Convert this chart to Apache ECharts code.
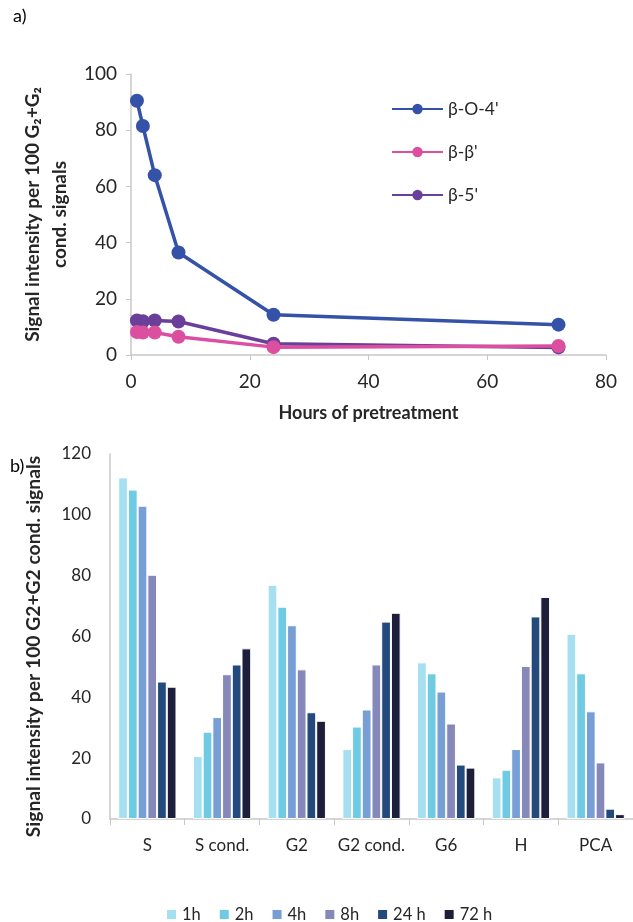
<!DOCTYPE html>
<html><head><meta charset="utf-8">
<script src="https://cdn.jsdelivr.net/npm/echarts@6/dist/echarts.min.js"></script>
<style>html,body{margin:0;padding:0;background:#fff}#c{width:633px;height:922px}</style>
</head><body><div id="c"></div>
<script>
// Panel a)
const hours = [1, 2, 4, 8, 24, 72];
const bO4 = [90.5, 81.5, 64, 36.5, 14.3, 10.8];
const bb = [8.2, 8, 8, 6.5, 2.8, 3.2];
const b5 = [12.3, 12, 12.3, 11.9, 4, 2.7];
const lineNames = ["β-O-4'", "β-β'", "β-5'"];
const lineColors = ['#3452a8', '#dc4fa0', '#6a3f9a'];
const xTicksA = [0, 20, 40, 60, 80];
const yTicksA = [0, 20, 40, 60, 80, 100];
// Panel b)
const categories = ['S', 'S cond.', 'G2', 'G2 cond.', 'G6', 'H', 'PCA'];
const barNames = ['1h', '2h', '4h', '8h', '24 h', '72 h'];
const v1h = [112.3, 20.7, 77, 23, 51.5, 13.7, 60.9];
const v2h = [108.3, 28.7, 69.8, 30.4, 47.9, 16.2, 47.9];
const v4h = [103, 33.5, 63.7, 36, 41.9, 23, 35.4];
const v8h = [80.3, 47.6, 49.2, 50.8, 31.4, 50.3, 18.6];
const v24h = [45.2, 50.8, 35.1, 64.9, 17.9, 66.6, 3.4];
const v72h = [43.5, 56.1, 32.3, 67.8, 16.9, 73, 1.6];
const barColors = ['#a6dff0', '#6fcbe3', '#789fd5', '#8688b9', '#24497b', '#1d1f3a'];

const FONT = 'Lato';
const axisGray = '#c8c8c8';
const txt = '#262626';
const barData = [v1h, v2h, v4h, v8h, v24h, v72h];

const lineSeries = [bO4, bb, b5].map((d, i) => ({
  name: lineNames[i], type: 'line', xAxisIndex: 0, yAxisIndex: 0,
  data: hours.map((h, j) => [h, d[j]]),
  symbol: 'circle', symbolSize: 14,
  lineStyle: {width: 3.5, color: lineColors[i]},
  itemStyle: {color: lineColors[i]},
  z: 3 - i
}));
const barSeries = barData.map((d, i) => ({
  name: barNames[i], type: 'bar', xAxisIndex: 1, yAxisIndex: 1,
  data: d, barGap: '0%', barCategoryGap: '22%',
  itemStyle: {color: barColors[i], borderColor: '#fff', borderWidth: 1}
}));

const chart = echarts.init(document.getElementById('c'), null, {renderer: 'canvas'});
chart.setOption({
  animation: false,
  backgroundColor: '#fff',
  textStyle: {fontFamily: FONT},
  title: [
    {text: 'a)', left: 8, top: 2, textStyle: {fontFamily: FONT, fontSize: 18, fontWeight: 'normal', color: '#000'}},
    {text: 'b)', left: 5, top: 452, textStyle: {fontFamily: FONT, fontSize: 18, fontWeight: 'normal', color: '#000'}}
  ],
  legend: [
    {data: lineNames, orient: 'vertical', left: 386, top: 95, itemWidth: 51, itemHeight: 13, itemGap: 25,
     textStyle: {fontFamily: FONT, fontSize: 17.5, color: txt}},
    {data: barNames, orient: 'horizontal', left: 160, top: 901, itemWidth: 11, itemHeight: 11, itemGap: 17,
     icon: 'rect', textStyle: {fontFamily: FONT, fontSize: 16.5, color: txt}}
  ],
  grid: [
    {left: 131, width: 475, top: 74, height: 281, containLabel: false},
    {left: 110, width: 523, top: 454, height: 365, containLabel: false}
  ],
  xAxis: [
    {gridIndex: 0, type: 'value', min: 0, max: 80, interval: 20,
     name: 'Hours of pretreatment', nameLocation: 'middle', nameGap: 49,
     nameTextStyle: {fontFamily: FONT, fontSize: 18, fontWeight: 'bold', color: txt},
     axisLine: {lineStyle: {color: axisGray, width: 1.5}},
     axisTick: {show: true, length: 5, lineStyle: {color: axisGray}},
     axisLabel: {fontFamily: FONT, fontSize: 19, color: txt, margin: 17},
     splitLine: {show: false}},
    {gridIndex: 1, type: 'category', data: categories,
     axisLine: {lineStyle: {color: axisGray, width: 1.5}},
     axisTick: {show: true, length: 6, interval: 0, alignWithLabel: false, lineStyle: {color: axisGray}},
     axisLabel: {interval: 0, fontFamily: FONT, fontSize: 17, color: txt, margin: 18}}
  ],
  yAxis: [
    {gridIndex: 0, type: 'value', min: 0, max: 100, interval: 20,
     name: 'Signal intensity per 100 G₂+G₂\ncond. signals', nameLocation: 'middle', nameGap: 55,
     nameTextStyle: {fontFamily: FONT, fontSize: 19, fontWeight: 'bold', color: txt, lineHeight: 27},
     axisLine: {show: true, lineStyle: {color: axisGray, width: 1.5}},
     axisTick: {show: true, length: 5, lineStyle: {color: axisGray}},
     axisLabel: {fontFamily: FONT, fontSize: 19, color: txt, margin: 14},
     splitLine: {show: false}},
    {gridIndex: 1, type: 'value', min: 0, max: 120, interval: 20,
     name: 'Signal intensity per 100 G2+G2 cond. signals', nameLocation: 'middle', nameGap: 67,
     nameTextStyle: {fontFamily: FONT, fontSize: 19.3, fontWeight: 'bold', color: txt, padding: [0, 20, 0, 0]},
     axisLine: {show: true, lineStyle: {color: axisGray, width: 1.5}},
     axisTick: {show: false},
     axisLabel: {fontFamily: FONT, fontSize: 17, color: txt, margin: 19},
     splitLine: {show: false}}
  ],
  series: lineSeries.concat(barSeries)
});
</script></body></html>
